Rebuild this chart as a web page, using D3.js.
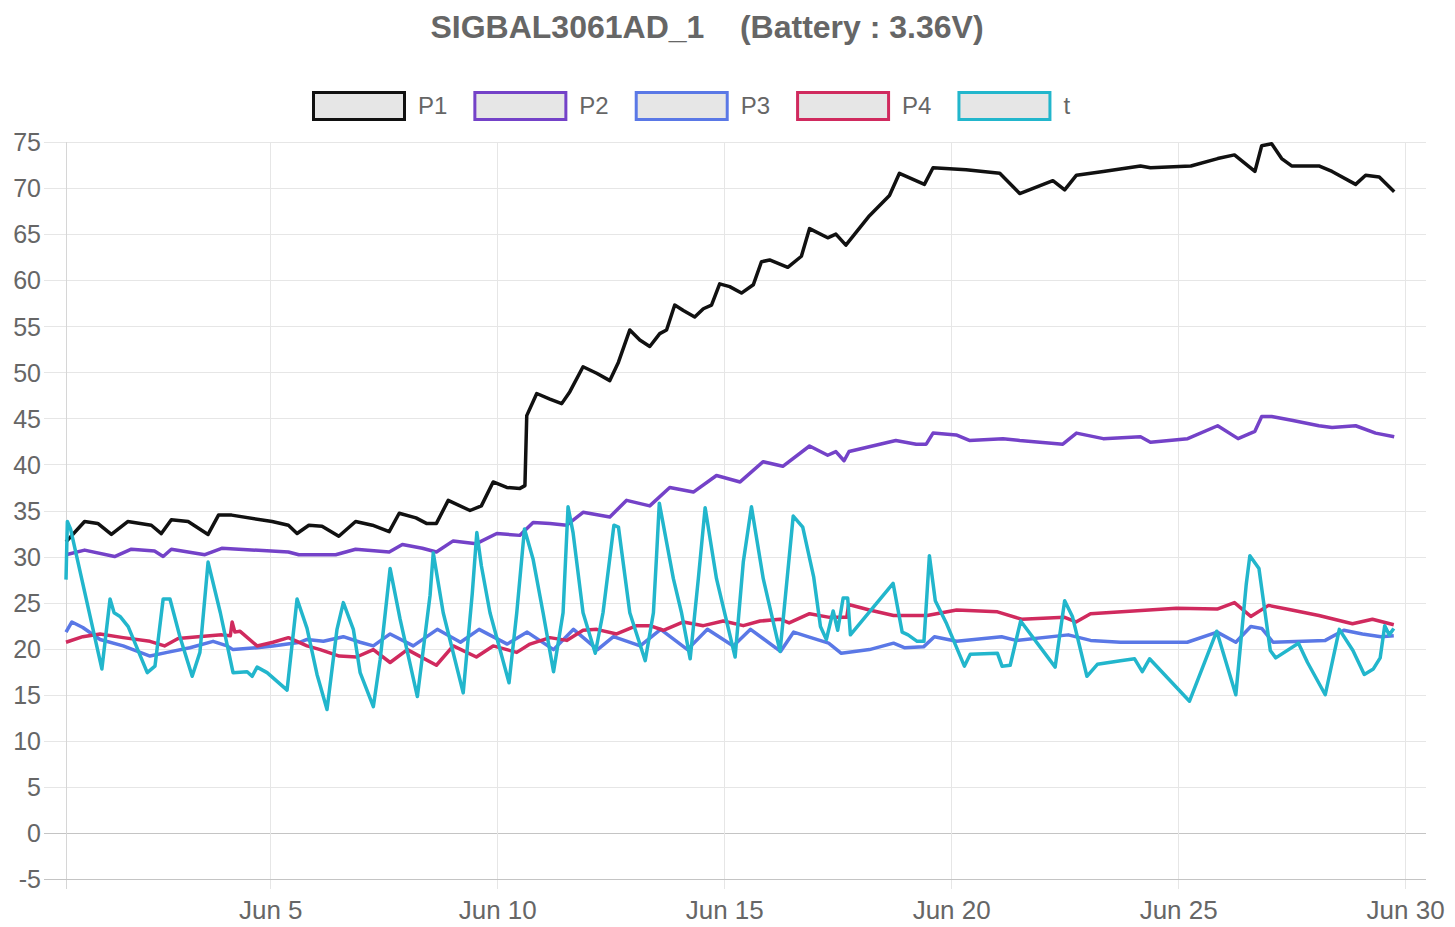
<!doctype html>
<html>
  <head>
    <meta charset="utf-8">
    <title>SIGBAL3061AD_1</title>
    <script src="https://cdnjs.cloudflare.com/ajax/libs/d3/7.8.5/d3.min.js"></script>
    <style>
      body { margin: 0; background: #fff; }
      text { font-family: "Liberation Sans", Arial, sans-serif; fill: #666; }
    </style>
  </head>
  <body>
    <div id="chart"></div>

    <script>
      // readings off the logger, x = day of June (fractional), y = value
      const seriesNames = ['P1', 'P2', 'P3', 'P4', 't'];
      const seriesColors = ['#111111', '#7442c8', '#5a78e6', '#d02a5e', '#22b6cc'];

      const p1 = [[0.50,31.6],[0.91,33.8],[1.20,33.6],[1.50,32.4],[1.86,33.8],[2.38,33.4],[2.60,32.5],[2.82,34.0],
        [3.19,33.8],[3.63,32.4],[3.86,34.5],[4.15,34.5],[5.04,33.8],[5.40,33.4],[5.59,32.5],[5.85,33.4],[6.14,33.3],
        [6.51,32.2],[6.88,33.8],[7.25,33.4],[7.62,32.7],[7.84,34.7],[8.21,34.2],[8.44,33.6],[8.66,33.6],[8.92,36.1],
        [9.40,35.0],[9.65,35.5],[9.91,38.1],[10.21,37.5],[10.50,37.4],[10.61,37.7],[10.65,45.3],[10.87,47.7],[11.16,47.1],
        [11.42,46.6],[11.60,47.9],[11.89,50.6],[12.19,49.9],[12.48,49.1],[12.67,51.1],[12.92,54.6],[13.14,53.5],[13.36,52.8],
        [13.58,54.2],[13.73,54.6],[13.91,57.3],[14.10,56.7],[14.35,56.0],[14.54,56.9],[14.72,57.3],[14.90,59.6],[15.12,59.3],
        [15.38,58.6],[15.64,59.5],[15.82,62.0],[16.00,62.2],[16.40,61.4],[16.70,62.6],[16.88,65.6],[17.28,64.6],[17.46,65.0],
        [17.68,63.8],[18.20,67.0],[18.64,69.2],[18.86,71.6],[19.41,70.4],[19.60,72.2],[20.33,72.0],[21.07,71.6],[21.51,69.4],
        [22.24,70.8],[22.50,69.8],[22.76,71.4],[23.35,71.8],[24.17,72.4],[24.39,72.2],[25.28,72.4],[25.87,73.2],[26.24,73.6],
        [26.69,71.8],[26.84,74.6],[27.06,74.8],[27.28,73.2],[27.50,72.4],[28.10,72.4],[28.39,71.8],[28.91,70.4],[29.13,71.4],
        [29.43,71.2],[29.76,69.6]];

      const p2 = [[0.50,30.2],[0.91,30.7],[1.57,30.0],[1.94,30.8],[2.45,30.6],[2.64,30.0],[2.82,30.8],[3.56,30.2],[3.93,30.9],
        [5.40,30.5],[5.63,30.2],[6.44,30.2],[6.88,30.8],[7.62,30.5],[7.91,31.3],[8.35,30.9],[8.66,30.5],[9.03,31.7],[9.54,31.4],
        [9.99,32.5],[10.50,32.3],[10.79,33.7],[11.16,33.6],[11.53,33.4],[11.89,34.8],[12.48,34.3],[12.85,36.1],[13.36,35.5],
        [13.80,37.5],[14.32,37.0],[14.83,38.8],[15.35,38.1],[15.86,40.3],[16.29,39.8],[16.88,42.0],[17.28,41.0],[17.46,41.4],
        [17.64,40.4],[17.75,41.4],[18.78,42.6],[19.23,42.2],[19.45,42.2],[19.60,43.4],[20.11,43.2],[20.40,42.6],[21.14,42.8],
        [21.51,42.6],[22.46,42.2],[22.76,43.4],[23.35,42.8],[24.17,43.0],[24.39,42.4],[25.21,42.8],[25.87,44.2],[26.32,42.8],
        [26.69,43.6],[26.84,45.2],[27.06,45.2],[27.50,44.8],[28.10,44.2],[28.39,44.0],[28.91,44.2],[29.35,43.4],[29.76,43.0]];

      const p3 = [[0.50,21.8],[0.63,22.9],[0.87,22.3],[1.25,21.0],[1.76,20.3],[2.35,19.2],[2.73,19.6],[3.23,20.1],[3.74,20.8],
        [4.05,20.3],[4.18,19.9],[4.71,20.1],[5.06,20.3],[5.66,20.7],[5.81,21.0],[6.17,20.8],[6.61,21.3],[6.98,20.7],[7.27,20.3],
        [7.64,21.6],[8.15,20.3],[8.68,22.1],[9.19,20.7],[9.60,22.1],[10.22,20.5],[10.66,21.8],[11.24,19.9],[11.68,22.1],
        [12.21,19.9],[12.56,21.3],[13.15,20.3],[13.60,22.1],[14.19,19.9],[14.63,22.1],[15.20,20.3],[15.58,22.1],[16.24,19.7],
        [16.53,21.8],[16.84,21.3],[17.30,20.6],[17.58,19.5],[18.20,19.9],[18.73,20.6],[18.98,20.1],[19.39,20.2],[19.63,21.3],
        [20.12,20.8],[21.11,21.3],[21.43,20.9],[22.58,21.5],[23.07,20.9],[23.73,20.7],[25.20,20.7],[25.86,21.8],[26.27,20.7],
        [26.60,22.4],[26.84,22.2],[27.09,20.7],[28.24,20.9],[28.65,22.0],[29.06,21.6],[29.47,21.3],[29.75,21.4]];

      const p4 = [[0.50,20.7],[0.87,21.3],[1.25,21.6],[1.76,21.2],[2.35,20.8],[2.67,20.3],[2.97,21.1],[3.41,21.3],[3.93,21.5],
        [4.12,21.4],[4.16,22.9],[4.22,21.8],[4.33,21.9],[4.71,20.3],[5.06,20.7],[5.40,21.2],[5.81,20.3],[6.10,19.9],[6.52,19.2],
        [6.90,19.1],[7.27,19.9],[7.64,18.5],[8.02,19.9],[8.66,18.2],[9.03,20.3],[9.54,19.1],[9.91,20.3],[10.43,19.6],[10.72,20.5],
        [11.16,21.2],[11.53,20.9],[11.89,22.0],[12.19,22.1],[12.63,21.6],[13.07,22.5],[13.36,22.5],[13.66,22.0],[14.10,22.9],
        [14.54,22.5],[14.98,23.0],[15.42,22.5],[15.79,23.0],[16.23,23.2],[16.43,22.8],[16.88,23.8],[17.32,23.4],[17.70,23.4],
        [17.74,24.8],[18.20,24.2],[18.73,23.6],[19.47,23.6],[20.12,24.2],[21.02,24.0],[21.55,23.2],[22.50,23.4],[22.75,22.9],
        [23.07,23.8],[24.96,24.4],[25.86,24.3],[26.24,25.0],[26.60,23.5],[26.99,24.7],[27.50,24.2],[28.10,23.6],[28.84,22.7],
        [29.28,23.2],[29.75,22.6]];

      const tSeries = [[0.50,27.5],[0.53,33.8],[0.60,33.0],[1.29,17.8],[1.47,25.4],[1.56,23.9],[1.69,23.5],[1.87,22.4],
        [2.29,17.4],[2.46,18.1],[2.64,25.4],[2.79,25.4],[3.01,21.3],[3.28,17.0],[3.45,19.6],[3.63,29.4],[3.90,23.9],[4.18,17.4],
        [4.49,17.5],[4.60,17.0],[4.71,18.0],[4.93,17.4],[5.37,15.5],[5.59,25.4],[5.81,22.2],[6.03,17.2],[6.25,13.4],[6.47,22.1],
        [6.61,25.0],[6.83,22.1],[6.98,17.4],[7.27,13.7],[7.42,18.8],[7.64,28.7],[7.86,23.2],[8.24,14.8],[8.52,25.8],[8.59,30.4],
        [8.81,23.9],[9.25,15.2],[9.45,26.0],[9.55,32.6],[9.65,29.0],[9.84,23.9],[10.26,16.3],[10.43,23.9],[10.60,33.0],
        [10.79,29.7],[11.01,23.9],[11.24,17.5],[11.45,23.9],[11.56,35.4],[11.67,32.6],[11.89,23.9],[12.16,19.5],[12.33,23.9],
        [12.57,33.4],[12.67,33.2],[12.92,23.9],[13.26,18.7],[13.44,23.9],[13.51,30.1],[13.57,35.8],[13.88,27.6],[14.06,23.9],
        [14.25,18.9],[14.43,27.6],[14.58,35.3],[14.83,27.6],[15.24,19.1],[15.42,29.4],[15.60,35.4],[15.86,27.6],[16.23,19.7],
        [16.52,34.4],[16.73,33.2],[16.97,27.8],[17.12,22.4],[17.25,21.0],[17.40,24.1],[17.50,22.0],[17.62,25.5],[17.72,25.5],
        [17.78,21.5],[18.72,27.1],[18.92,21.8],[19.05,21.5],[19.25,20.8],[19.40,20.8],[19.52,30.1],[19.65,25.2],[19.90,22.7],
        [20.29,18.1],[20.42,19.4],[21.02,19.5],[21.12,18.1],[21.30,18.2],[21.53,23.0],[22.29,18.0],[22.50,25.2],[22.67,23.5],
        [22.99,17.0],[23.22,18.3],[23.73,18.7],[24.04,18.9],[24.21,17.5],[24.37,18.9],[25.25,14.3],[25.85,21.9],[26.27,15.0],
        [26.50,27.0],[26.58,30.1],[26.78,28.7],[27.03,19.8],[27.15,19.0],[27.65,20.6],[27.85,18.5],[28.24,15.0],[28.55,22.1],
        [28.85,19.8],[29.10,17.2],[29.30,17.8],[29.45,19.0],[29.55,22.5],[29.65,21.5],[29.75,22.2]];

      const allSeries = [p1, p2, p3, p4, tSeries];
      const yTicks = d3.range(-5, 76, 5);
      const xTickDays = [5, 10, 15, 20, 25, 30];
      const xDomainDays = [0.5, 30.46];
      const title = 'SIGBAL3061AD_1    (Battery : 3.36V)';

      // day of june -> Date
      const juneDay = d => new Date(2021, 5, 1, 0, 0 + Math.round((d - 1) * 1440));

      const width = 1455, height = 927;
      const margin = { top: 142, right: 29, bottom: 48, left: 66 };

      const svg = d3.select('#chart')
        .append('svg')
        .attr('width', width)
        .attr('height', height);

      const x = d3.scaleTime()
        .domain(xDomainDays.map(juneDay))
        .range([margin.left, width - margin.right]);

      const y = d3.scaleLinear()
        .domain([-5, 75])
        .range([height - margin.bottom, margin.top]);

      // horizontal grid + y labels (plain hyphen for negatives)
      const yGrid = svg.append('g')
        .attr('transform', `translate(${margin.left},0)`)
        .call(d3.axisLeft(y).tickValues(yTicks)
          .tickFormat(d => String(d))
          .tickSize(-(width - margin.right - margin.left))
          .tickPadding(25));
      yGrid.select('.domain').remove();
      yGrid.selectAll('.tick line')
        .attr('x1', -22)
        .attr('stroke', d => d === 0 ? '#c4c4c4' : '#e6e6e6')
        .attr('shape-rendering', 'crispEdges');
      yGrid.selectAll('.tick text')
        .style('font-size', '25px')
        .attr('dy', '0.35em');

      // vertical grid + x labels
      const xGrid = svg.append('g')
        .attr('transform', `translate(0,${height - margin.bottom})`)
        .call(d3.axisBottom(x)
          .tickValues(xTickDays.map(juneDay))
          .tickFormat(d3.timeFormat('%b %-d'))
          .tickSize(-(height - margin.bottom - margin.top))
          .tickPadding(22));
      xGrid.select('.domain').remove();
      xGrid.selectAll('.tick line')
        .attr('y1', 10)
        .attr('stroke', '#e6e6e6')
        .attr('shape-rendering', 'crispEdges');
      xGrid.selectAll('.tick text')
        .style('font-size', '26px');

      // left axis line and bottom border
      svg.append('line')
        .attr('x1', margin.left).attr('x2', margin.left)
        .attr('y1', margin.top).attr('y2', height - margin.bottom + 10)
        .attr('stroke', '#d6d6d6')
        .attr('shape-rendering', 'crispEdges');
      svg.append('line')
        .attr('x1', margin.left - 22).attr('x2', width - margin.right)
        .attr('y1', y(-5)).attr('y2', y(-5))
        .attr('stroke', '#c4c4c4')
        .attr('shape-rendering', 'crispEdges');

      const line = d3.line()
        .x(d => x(juneDay(d[0])))
        .y(d => y(d[1]));

      svg.append('g')
        .selectAll('path')
        .data(allSeries)
        .join('path')
        .attr('d', line)
        .attr('fill', 'none')
        .attr('stroke', (d, i) => seriesColors[i])
        .attr('stroke-width', 3.5)
        .attr('stroke-linejoin', 'round');

      // title
      svg.append('text')
        .attr('x', 707)
        .attr('y', 38)
        .attr('text-anchor', 'middle')
        .style('font-size', '32px')
        .style('font-weight', 'bold')
        .style('white-space', 'pre')
        .text(title);

      // legend
      const legend = svg.append('g');
      let lx = 312;
      seriesNames.forEach((name, i) => {
        const item = legend.append('g');
        item.append('rect')
          .attr('x', lx + 1.5).attr('y', 92.5)
          .attr('width', 91).attr('height', 27)
          .attr('fill', '#e6e6e6')
          .attr('stroke', seriesColors[i])
          .attr('stroke-width', 3);
        const label = item.append('text')
          .attr('x', lx + 106)
          .attr('y', 114)
          .style('font-size', '24px')
          .text(name);
        lx += 106 + label.node().getComputedTextLength() + 26;
      });
    </script>
  </body>
</html>
